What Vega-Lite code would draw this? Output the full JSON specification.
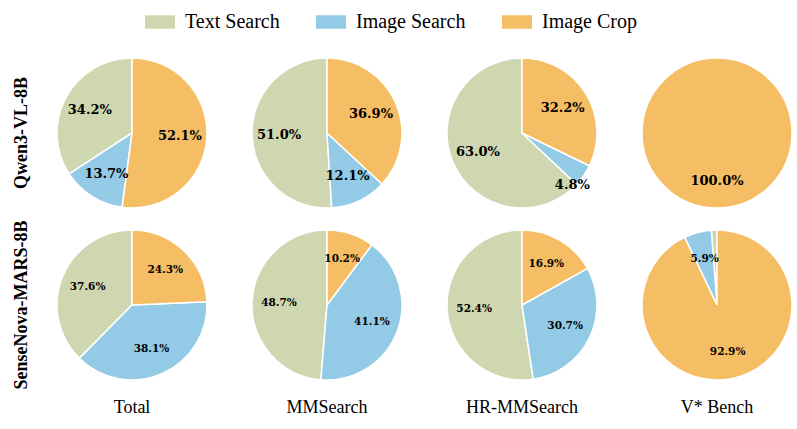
{
  "$schema": "https://vega.github.io/schema/vega-lite/v6.json",
  "background": "white",
  "padding": {"left": 12, "top": 7, "right": 0, "bottom": 0},
  "bounds": "flush",
  "data": {"values": [
    {"model": "Qwen3-VL-8B", "bench": "Total", "method": "Text Search", "value": 34.2},
    {"model": "Qwen3-VL-8B", "bench": "Total", "method": "Image Search", "value": 13.7},
    {"model": "Qwen3-VL-8B", "bench": "Total", "method": "Image Crop", "value": 52.1},
    {"model": "Qwen3-VL-8B", "bench": "MMSearch", "method": "Text Search", "value": 51.0},
    {"model": "Qwen3-VL-8B", "bench": "MMSearch", "method": "Image Search", "value": 12.1},
    {"model": "Qwen3-VL-8B", "bench": "MMSearch", "method": "Image Crop", "value": 36.9},
    {"model": "Qwen3-VL-8B", "bench": "HR-MMSearch", "method": "Text Search", "value": 63.0},
    {"model": "Qwen3-VL-8B", "bench": "HR-MMSearch", "method": "Image Search", "value": 4.8},
    {"model": "Qwen3-VL-8B", "bench": "HR-MMSearch", "method": "Image Crop", "value": 32.2},
    {"model": "Qwen3-VL-8B", "bench": "V* Bench", "method": "Image Crop", "value": 100.0},
    {"model": "SenseNova-MARS-8B", "bench": "Total", "method": "Text Search", "value": 37.6},
    {"model": "SenseNova-MARS-8B", "bench": "Total", "method": "Image Search", "value": 38.1},
    {"model": "SenseNova-MARS-8B", "bench": "Total", "method": "Image Crop", "value": 24.3},
    {"model": "SenseNova-MARS-8B", "bench": "MMSearch", "method": "Text Search", "value": 48.7},
    {"model": "SenseNova-MARS-8B", "bench": "MMSearch", "method": "Image Search", "value": 41.1},
    {"model": "SenseNova-MARS-8B", "bench": "MMSearch", "method": "Image Crop", "value": 10.2},
    {"model": "SenseNova-MARS-8B", "bench": "HR-MMSearch", "method": "Text Search", "value": 52.4},
    {"model": "SenseNova-MARS-8B", "bench": "HR-MMSearch", "method": "Image Search", "value": 30.7},
    {"model": "SenseNova-MARS-8B", "bench": "HR-MMSearch", "method": "Image Crop", "value": 16.9},
    {"model": "SenseNova-MARS-8B", "bench": "V* Bench", "method": "Text Search", "value": 1.2},
    {"model": "SenseNova-MARS-8B", "bench": "V* Bench", "method": "Image Search", "value": 5.9},
    {"model": "SenseNova-MARS-8B", "bench": "V* Bench", "method": "Image Crop", "value": 92.9}
  ]},
  "transform": [
    {"calculate": "format(datum.value, '.1f') + '%'", "as": "label"}
  ],
  "facet": {
    "row": {
      "field": "model", "type": "nominal",
      "sort": ["Qwen3-VL-8B", "SenseNova-MARS-8B"],
      "title": null,
      "header": {
        "labelAngle": -90, "labelOrient": "left", "labelAlign": "center", "labelBaseline": "alphabetic",
        "labelFont": "Liberation Serif", "labelFontWeight": "bold", "labelFontSize": 18,
        "labelColor": "black", "labelPadding": 12
      }
    },
    "column": {
      "field": "bench", "type": "nominal",
      "sort": ["Total", "MMSearch", "HR-MMSearch", "V* Bench"],
      "title": null,
      "header": {
        "labelOrient": "bottom", "labelFont": "Liberation Serif", "labelFontSize": 18,
        "labelColor": "black", "labelPadding": 19
      }
    }
  },
  "spacing": {"row": 22, "column": 45},
  "spec": {
    "width": 150,
    "height": 150,
    "encoding": {
      "theta": {"field": "value", "type": "quantitative", "stack": true, "scale": {"domain": [0, 100]}},
      "order": {"field": "method", "sort": "ascending"}
    },
    "layer": [
      {
        "mark": {"type": "arc", "stroke": "white", "strokeWidth": 1.5},
        "encoding": {
          "color": {
            "field": "method", "type": "nominal",
            "scale": {"domain": ["Text Search", "Image Search", "Image Crop"], "range": ["#cfd7b0", "#93cbe6", "#f6be64"]},
            "legend": {
              "orient": "none", "legendX": 88, "legendY": -51, "direction": "horizontal",
              "title": null, "labelFont": "Liberation Serif", "labelFontSize": 20, "labelColor": "black",
              "symbolType": "M-1,-0.45H1V0.45H-1Z", "symbolSize": 900, "symbolStrokeWidth": 0,
              "symbolOpacity": 1, "labelOffset": 10, "columnPadding": 36, "padding": 0
            }
          }
        }
      },
      {
        "mark": {"type": "text", "radius": 48, "font": "DejaVu Serif", "fontWeight": "bold", "color": "black"},
        "encoding": {
          "text": {"condition": {"test": "datum.value < 5", "value": ""}, "field": "label", "type": "nominal"},
          "size": {"condition": {"test": "datum.model === 'Qwen3-VL-8B'", "value": 13}, "value": 10.5}
        }
      },
      {
        "mark": {"type": "text", "radius": 66, "dx": -4, "dy": 15, "font": "DejaVu Serif", "fontWeight": "bold", "color": "black"},
        "encoding": {
          "text": {"condition": {"test": "datum.value < 2 || datum.value >= 5", "value": ""}, "field": "label", "type": "nominal"},
          "size": {"condition": {"test": "datum.model === 'Qwen3-VL-8B'", "value": 13}, "value": 10.5}
        }
      }
    ]
  },
  "config": {
    "view": {"stroke": null}
  }
}
